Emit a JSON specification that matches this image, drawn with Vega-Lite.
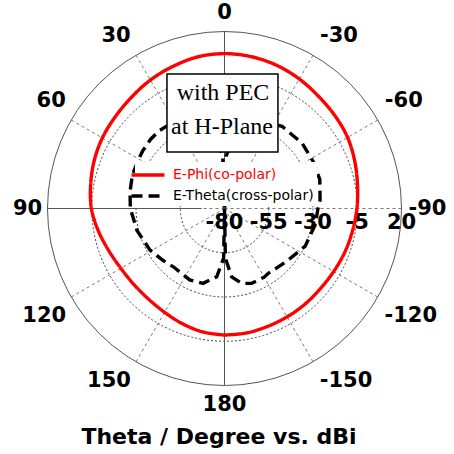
{
  "$schema": "https://vega.github.io/schema/vega-lite/v6.json",
  "width": 454,
  "height": 420,
  "padding": 0,
  "autosize": {"type": "pad"},
  "background": "white",
  "title": {"text": "Theta / Degree vs. dBi", "orient": "bottom", "anchor": "middle", "offset": 7, "dx": -8, "font": "DejaVu Sans", "fontSize": 22, "fontWeight": "bold", "color": "#000000"},
  "config": {"view": {"stroke": null}},
  "data": {"values": [{"one": 1}]},
  "datasets": {
    "spokes": [{"angle": 0}, {"angle": 30}, {"angle": 60}, {"angle": 90}, {"angle": 120}, {"angle": 150}, {"angle": 180}, {"angle": 210}, {"angle": 240}, {"angle": 270}, {"angle": 300}, {"angle": 330}],
    "axes": [{"angle": 0}, {"angle": 90}, {"angle": 180}],
    "rings": [{"level": -55}, {"level": -30}, {"level": -5}],
    "outer": [{"level": 20}],
    "rlabels": [{"level": -80, "label": "-80"}, {"level": -55, "label": "-55"}, {"level": -30, "label": "-30"}, {"level": -5, "label": "-5"}, {"level": 20, "label": "20"}],
    "alabels": [{"angle": 0, "label": "0"}, {"angle": 30, "label": "30"}, {"angle": 60, "label": "60"}, {"angle": 90, "label": "90"}, {"angle": 120, "label": "120"}, {"angle": 150, "label": "150"}, {"angle": 180, "label": "180"}, {"angle": -150, "label": "-150"}, {"angle": -120, "label": "-120"}, {"angle": -90, "label": "-90"}, {"angle": -60, "label": "-60"}, {"angle": -30, "label": "-30"}],
    "curves": [
      {"series": "E-Phi(co-polar)", "theta": -180, "dBi": -8.5},
      {"series": "E-Phi(co-polar)", "theta": -170, "dBi": -8.6},
      {"series": "E-Phi(co-polar)", "theta": -160, "dBi": -9.1},
      {"series": "E-Phi(co-polar)", "theta": -150, "dBi": -9.3},
      {"series": "E-Phi(co-polar)", "theta": -140, "dBi": -9.4},
      {"series": "E-Phi(co-polar)", "theta": -130, "dBi": -9.4},
      {"series": "E-Phi(co-polar)", "theta": -120, "dBi": -8.8},
      {"series": "E-Phi(co-polar)", "theta": -110, "dBi": -7.7},
      {"series": "E-Phi(co-polar)", "theta": -100, "dBi": -6.6},
      {"series": "E-Phi(co-polar)", "theta": -90, "dBi": -5.2},
      {"series": "E-Phi(co-polar)", "theta": -80, "dBi": -3.7},
      {"series": "E-Phi(co-polar)", "theta": -70, "dBi": -1.7},
      {"series": "E-Phi(co-polar)", "theta": -60, "dBi": 0.3},
      {"series": "E-Phi(co-polar)", "theta": -50, "dBi": 1.5},
      {"series": "E-Phi(co-polar)", "theta": -40, "dBi": 2.7},
      {"series": "E-Phi(co-polar)", "theta": -30, "dBi": 4.5},
      {"series": "E-Phi(co-polar)", "theta": -20, "dBi": 6.1},
      {"series": "E-Phi(co-polar)", "theta": -10, "dBi": 7.1},
      {"series": "E-Phi(co-polar)", "theta": 0, "dBi": 7.5},
      {"series": "E-Phi(co-polar)", "theta": 10, "dBi": 7.0},
      {"series": "E-Phi(co-polar)", "theta": 20, "dBi": 5.4},
      {"series": "E-Phi(co-polar)", "theta": 30, "dBi": 3.8},
      {"series": "E-Phi(co-polar)", "theta": 40, "dBi": 1.9},
      {"series": "E-Phi(co-polar)", "theta": 50, "dBi": 0.6},
      {"series": "E-Phi(co-polar)", "theta": 60, "dBi": -0.3},
      {"series": "E-Phi(co-polar)", "theta": 70, "dBi": -1.6},
      {"series": "E-Phi(co-polar)", "theta": 80, "dBi": -3.2},
      {"series": "E-Phi(co-polar)", "theta": 90, "dBi": -4.8},
      {"series": "E-Phi(co-polar)", "theta": 100, "dBi": -7.6},
      {"series": "E-Phi(co-polar)", "theta": 110, "dBi": -10.4},
      {"series": "E-Phi(co-polar)", "theta": 120, "dBi": -12.4},
      {"series": "E-Phi(co-polar)", "theta": 130, "dBi": -13.2},
      {"series": "E-Phi(co-polar)", "theta": 140, "dBi": -13.2},
      {"series": "E-Phi(co-polar)", "theta": 150, "dBi": -12.3},
      {"series": "E-Phi(co-polar)", "theta": 160, "dBi": -10.7},
      {"series": "E-Phi(co-polar)", "theta": 170, "dBi": -9.2},
      {"series": "E-Phi(co-polar)", "theta": 180, "dBi": -8.5},
      {"series": "E-Theta(cross-polar)", "theta": -180, "dBi": -80},
      {"series": "E-Theta(cross-polar)", "theta": -179, "dBi": -52},
      {"series": "E-Theta(cross-polar)", "theta": -174, "dBi": -41.2},
      {"series": "E-Theta(cross-polar)", "theta": -167, "dBi": -36.6},
      {"series": "E-Theta(cross-polar)", "theta": -160, "dBi": -35.0},
      {"series": "E-Theta(cross-polar)", "theta": -150, "dBi": -35.2},
      {"series": "E-Theta(cross-polar)", "theta": -146, "dBi": -35.8},
      {"series": "E-Theta(cross-polar)", "theta": -138, "dBi": -35.2},
      {"series": "E-Theta(cross-polar)", "theta": -129, "dBi": -33.7},
      {"series": "E-Theta(cross-polar)", "theta": -115, "dBi": -29.7},
      {"series": "E-Theta(cross-polar)", "theta": -100, "dBi": -27.9},
      {"series": "E-Theta(cross-polar)", "theta": -90, "dBi": -27.2},
      {"series": "E-Theta(cross-polar)", "theta": -85, "dBi": -25.8},
      {"series": "E-Theta(cross-polar)", "theta": -73, "dBi": -23.7},
      {"series": "E-Theta(cross-polar)", "theta": -62, "dBi": -23.3},
      {"series": "E-Theta(cross-polar)", "theta": -50, "dBi": -22.7},
      {"series": "E-Theta(cross-polar)", "theta": -35, "dBi": -23.3},
      {"series": "E-Theta(cross-polar)", "theta": -25, "dBi": -26},
      {"series": "E-Theta(cross-polar)", "theta": -15, "dBi": -31},
      {"series": "E-Theta(cross-polar)", "theta": -8, "dBi": -38},
      {"series": "E-Theta(cross-polar)", "theta": -2, "dBi": -50},
      {"series": "E-Theta(cross-polar)", "theta": 0, "dBi": -80},
      {"series": "E-Theta(cross-polar)", "theta": 2, "dBi": -50},
      {"series": "E-Theta(cross-polar)", "theta": 8, "dBi": -38},
      {"series": "E-Theta(cross-polar)", "theta": 15, "dBi": -31},
      {"series": "E-Theta(cross-polar)", "theta": 25, "dBi": -26},
      {"series": "E-Theta(cross-polar)", "theta": 35, "dBi": -23.2},
      {"series": "E-Theta(cross-polar)", "theta": 40, "dBi": -22.6},
      {"series": "E-Theta(cross-polar)", "theta": 47, "dBi": -22.8},
      {"series": "E-Theta(cross-polar)", "theta": 55, "dBi": -23.5},
      {"series": "E-Theta(cross-polar)", "theta": 61, "dBi": -24.1},
      {"series": "E-Theta(cross-polar)", "theta": 70, "dBi": -24.6},
      {"series": "E-Theta(cross-polar)", "theta": 80, "dBi": -25.8},
      {"series": "E-Theta(cross-polar)", "theta": 90, "dBi": -26.8},
      {"series": "E-Theta(cross-polar)", "theta": 104, "dBi": -29.0},
      {"series": "E-Theta(cross-polar)", "theta": 119, "dBi": -31.8},
      {"series": "E-Theta(cross-polar)", "theta": 130, "dBi": -34.5},
      {"series": "E-Theta(cross-polar)", "theta": 139, "dBi": -36.2},
      {"series": "E-Theta(cross-polar)", "theta": 154, "dBi": -35.1},
      {"series": "E-Theta(cross-polar)", "theta": 164, "dBi": -36.0},
      {"series": "E-Theta(cross-polar)", "theta": 173.5, "dBi": -41.2},
      {"series": "E-Theta(cross-polar)", "theta": 179, "dBi": -52},
      {"series": "E-Theta(cross-polar)", "theta": 180, "dBi": -80}
    ]
  },
  "layer": [
    {
      "data": {"name": "spokes"},
      "transform": [
        {"calculate": "0", "as": "x0"},
        {"calculate": "0", "as": "y0"},
        {"calculate": "-100*sin(datum.angle*PI/180)", "as": "xe"},
        {"calculate": "100*cos(datum.angle*PI/180)", "as": "ye"}
      ],
      "mark": {"type": "rule", "stroke": "#7a7a7a", "strokeWidth": 1, "strokeDash": [3, 3]},
      "encoding": {
        "x": {"field": "x0", "type": "quantitative", "scale": {"domain": [-126.84, 129.66], "nice": false, "zero": false}, "axis": null},
        "y": {"field": "y0", "type": "quantitative", "scale": {"domain": [-119.49, 117.8], "nice": false, "zero": false}, "axis": null},
        "x2": {"field": "xe"},
        "y2": {"field": "ye"}
      }
    },
    {
      "data": {"name": "rings"},
      "transform": [
        {"calculate": "datum.level+80", "as": "rr"},
        {"calculate": "0", "as": "cx"},
        {"calculate": "0", "as": "cy"}
      ],
      "mark": {"type": "point", "shape": "circle", "filled": false, "stroke": "#444444", "strokeWidth": 1, "strokeDash": [2, 2], "opacity": 1},
      "encoding": {
        "x": {"field": "cx", "type": "quantitative"},
        "y": {"field": "cy", "type": "quantitative"},
        "size": {"field": "rr", "type": "quantitative", "scale": {"type": "pow", "exponent": 2, "domain": [0, 100], "range": [0, 125316], "zero": false}, "legend": null}
      }
    },
    {
      "data": {"name": "outer"},
      "transform": [
        {"calculate": "datum.level+80", "as": "rr"},
        {"calculate": "0", "as": "cx"},
        {"calculate": "0", "as": "cy"}
      ],
      "mark": {"type": "point", "shape": "circle", "filled": false, "stroke": "#555555", "strokeWidth": 1, "opacity": 1},
      "encoding": {
        "x": {"field": "cx", "type": "quantitative"},
        "y": {"field": "cy", "type": "quantitative"},
        "size": {"field": "rr", "type": "quantitative", "scale": {"type": "pow", "exponent": 2, "domain": [0, 100], "range": [0, 125316], "zero": false}, "legend": null}
      }
    },
    {
      "data": {"name": "axes"},
      "transform": [
        {"calculate": "datum.angle == 90 ? 12.9 : 0", "as": "r0"},
        {"calculate": "-datum.r0*sin(datum.angle*PI/180)", "as": "xa"},
        {"calculate": "datum.r0*cos(datum.angle*PI/180)", "as": "ya"},
        {"calculate": "-100*sin(datum.angle*PI/180)", "as": "xb"},
        {"calculate": "100*cos(datum.angle*PI/180)", "as": "yb"}
      ],
      "mark": {"type": "rule", "stroke": "#555555", "strokeWidth": 1},
      "encoding": {
        "x": {"field": "xa", "type": "quantitative"},
        "y": {"field": "ya", "type": "quantitative"},
        "x2": {"field": "xb"},
        "y2": {"field": "yb"}
      }
    },
    {
      "data": {"name": "rlabels"},
      "transform": [{"calculate": "datum.level+80", "as": "xr"}, {"calculate": "0", "as": "yr"}],
      "mark": {"type": "text", "font": "DejaVu Sans", "fontSize": 21, "fontWeight": "bold", "color": "#000000", "align": "center", "baseline": "middle", "dy": 14},
      "encoding": {
        "x": {"field": "xr", "type": "quantitative"},
        "y": {"field": "yr", "type": "quantitative"},
        "text": {"field": "label", "type": "nominal"}
      }
    },
    {
      "data": {"name": "curves"},
      "transform": [
        {"filter": "datum.series === 'E-Theta(cross-polar)'"},
        {"calculate": "-(datum.dBi+80)*sin(datum.theta*PI/180)", "as": "px"},
        {"calculate": "(datum.dBi+80)*cos(datum.theta*PI/180)", "as": "py"}
      ],
      "mark": {"type": "line", "strokeWidth": 3.4},
      "encoding": {
        "x": {"field": "px", "type": "quantitative"},
        "y": {"field": "py", "type": "quantitative"},
        "order": {"field": "theta", "type": "quantitative"},
        "color": {
          "field": "series", "type": "nominal",
          "scale": {"domain": ["E-Phi(co-polar)", "E-Theta(cross-polar)"], "range": ["#ff0000", "#000000"]},
          "legend": {"orient": "none", "legendX": 135, "legendY": 162, "title": null, "padding": 3, "fillColor": "white", "symbolType": "M-2,0H2", "symbolSize": 272, "symbolStrokeWidth": 3.5, "labelFont": "DejaVu Sans", "labelFontSize": 14, "labelOffset": 15, "rowPadding": 4, "labelLimit": 300,
            "encode": {"labels": {"update": {"fill": {"signal": "datum.label === 'E-Phi(co-polar)' ? '#ff0000' : '#000000'"}}}}}
        },
        "strokeDash": {
          "field": "series", "type": "nominal",
          "scale": {"domain": ["E-Phi(co-polar)", "E-Theta(cross-polar)"], "range": [[1, 0], [11, 6]]},
          "legend": {"orient": "none", "legendX": 135, "legendY": 162, "title": null, "padding": 3, "fillColor": "white", "symbolType": "M-2,0H2", "symbolSize": 272, "symbolStrokeWidth": 3.5, "labelFont": "DejaVu Sans", "labelFontSize": 14, "labelOffset": 15, "rowPadding": 4, "labelLimit": 300,
            "encode": {"labels": {"update": {"fill": {"signal": "datum.label === 'E-Phi(co-polar)' ? '#ff0000' : '#000000'"}}}}}
        }
      }
    },
    {
      "data": {"name": "curves"},
      "transform": [
        {"filter": "datum.series === 'E-Phi(co-polar)'"},
        {"calculate": "-(datum.dBi+80)*sin(datum.theta*PI/180)", "as": "px"},
        {"calculate": "(datum.dBi+80)*cos(datum.theta*PI/180)", "as": "py"}
      ],
      "mark": {"type": "line", "strokeWidth": 3.4, "interpolate": "catmull-rom"},
      "encoding": {
        "x": {"field": "px", "type": "quantitative"},
        "y": {"field": "py", "type": "quantitative"},
        "order": {"field": "theta", "type": "quantitative"},
        "color": {
          "field": "series", "type": "nominal",
          "scale": {"domain": ["E-Phi(co-polar)", "E-Theta(cross-polar)"], "range": ["#ff0000", "#000000"]},
          "legend": {"orient": "none", "legendX": 135, "legendY": 162, "title": null, "padding": 3, "fillColor": "white", "symbolType": "M-2,0H2", "symbolSize": 272, "symbolStrokeWidth": 3.5, "labelFont": "DejaVu Sans", "labelFontSize": 14, "labelOffset": 15, "rowPadding": 4, "labelLimit": 300,
            "encode": {"labels": {"update": {"fill": {"signal": "datum.label === 'E-Phi(co-polar)' ? '#ff0000' : '#000000'"}}}}}
        },
        "strokeDash": {
          "field": "series", "type": "nominal",
          "scale": {"domain": ["E-Phi(co-polar)", "E-Theta(cross-polar)"], "range": [[1, 0], [11, 6]]},
          "legend": {"orient": "none", "legendX": 135, "legendY": 162, "title": null, "padding": 3, "fillColor": "white", "symbolType": "M-2,0H2", "symbolSize": 272, "symbolStrokeWidth": 3.5, "labelFont": "DejaVu Sans", "labelFontSize": 14, "labelOffset": 15, "rowPadding": 4, "labelLimit": 300,
            "encode": {"labels": {"update": {"fill": {"signal": "datum.label === 'E-Phi(co-polar)' ? '#ff0000' : '#000000'"}}}}}
        }
      }
    },
    {
      "mark": {"type": "rect", "fill": "white", "stroke": "#000000", "strokeWidth": 1.5},
      "encoding": {
        "x": {"datum": -32.5, "type": "quantitative"},
        "x2": {"datum": 30.2},
        "y": {"datum": 76.0, "type": "quantitative"},
        "y2": {"datum": 31.9}
      }
    },
    {
      "mark": {"type": "text", "text": "with PEC", "font": "Liberation Serif", "fontSize": 24, "color": "#000000", "align": "center", "baseline": "middle"},
      "encoding": {
        "x": {"datum": -0.85, "type": "quantitative"},
        "y": {"datum": 65.3, "type": "quantitative"}
      }
    },
    {
      "mark": {"type": "text", "text": "at H-Plane", "font": "Liberation Serif", "fontSize": 24, "color": "#000000", "align": "center", "baseline": "middle"},
      "encoding": {
        "x": {"datum": -1.4, "type": "quantitative"},
        "y": {"datum": 46.0, "type": "quantitative"}
      }
    },
    {
      "data": {"name": "alabels"},
      "transform": [
        {"calculate": "sin(datum.angle*PI/180)", "as": "s"},
        {"calculate": "cos(datum.angle*PI/180)", "as": "c"},
        {"calculate": "7*length(datum.label) - (indexof(datum.label, '-') >= 0 ? 1 : 0)", "as": "hw"},
        {"calculate": "(-177*datum.s - (datum.s >= 0 ? 1 : -1)*(datum.hw+6)*min(1, 2*abs(datum.s)))/1.77", "as": "xl"},
        {"calculate": "(177*datum.c + (datum.c >= 0 ? 1 : -1)*19*min(1, 2*abs(datum.c)))/1.77", "as": "yl"}
      ],
      "mark": {"type": "text", "font": "DejaVu Sans", "fontSize": 21, "fontWeight": "bold", "color": "#000000", "align": "center", "baseline": "middle"},
      "encoding": {
        "x": {"field": "xl", "type": "quantitative"},
        "y": {"field": "yl", "type": "quantitative"},
        "text": {"field": "label", "type": "nominal"}
      }
    }
  ]
}
